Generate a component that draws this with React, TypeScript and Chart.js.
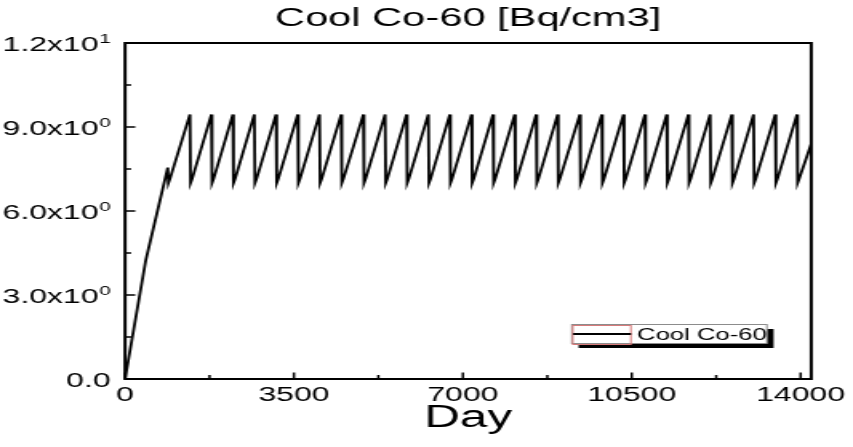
import React, { useEffect, useRef } from "react";
import { Chart, registerables } from "chart.js";

Chart.register(...registerables);

// ---------- data ----------
const chartTitle = "Cool Co-60 [Bq/cm3]";
const seriesName = "Cool Co-60";
const xAxisTitle = "Day";

const dayValues = [
  0, 430, 885, 898, 930,
  1345, 1357, 1390,
  1790, 1802, 1835,
  2235, 2247, 2280,
  2680, 2692, 2725,
  3130, 3142, 3175,
  3580, 3592, 3625,
  4030, 4042, 4075,
  4480, 4492, 4525,
  4940, 4952, 4985,
  5390, 5402, 5435,
  5835, 5847, 5880,
  6285, 6297, 6330,
  6730, 6742, 6775,
  7180, 7192, 7225,
  7625, 7637, 7670,
  8075, 8087, 8120,
  8520, 8532, 8565,
  8965, 8977, 9010,
  9425, 9437, 9470,
  9880, 9892, 9925,
  10330, 10342, 10375,
  10775, 10787, 10820,
  11225, 11237, 11270,
  11675, 11687, 11720,
  12125, 12137, 12170,
  12575, 12587, 12620,
  13025, 13037, 13070,
  13475, 13487, 13520,
  13925, 13937, 13970,
  14220,
];

const activityValues = [
  0, 4.25, 7.55, 7.0, 7.15,
  9.45, 7.0, 7.15,
  9.45, 7.0, 7.15,
  9.45, 7.0, 7.15,
  9.45, 7.0, 7.15,
  9.45, 7.0, 7.15,
  9.45, 7.0, 7.15,
  9.45, 7.0, 7.15,
  9.45, 7.0, 7.15,
  9.45, 7.0, 7.15,
  9.45, 7.0, 7.15,
  9.45, 7.0, 7.15,
  9.45, 7.0, 7.15,
  9.45, 7.0, 7.15,
  9.45, 7.0, 7.15,
  9.45, 7.0, 7.15,
  9.45, 7.0, 7.15,
  9.45, 7.0, 7.15,
  9.45, 7.0, 7.15,
  9.45, 7.0, 7.15,
  9.45, 7.0, 7.15,
  9.45, 7.0, 7.15,
  9.45, 7.0, 7.15,
  9.45, 7.0, 7.15,
  9.45, 7.0, 7.15,
  9.45, 7.0, 7.15,
  9.45, 7.0, 7.15,
  9.45, 7.0, 7.15,
  9.45, 7.0, 7.15,
  9.45, 7.0, 7.15,
  8.4,
];

const xTickValues = [0, 3500, 7000, 10500, 14000];
const xTickLabels = ["0", "3500", "7000", "10500", "14000"];
const xMinorTicks = [1750, 5250, 8750, 12250];
const yTickValues = [0, 3, 6, 9, 12];
const yTickMantissas = ["0.0", "3.0x10", "6.0x10", "9.0x10", "1.2x10"];
const yTickExponents = ["", "0", "0", "0", "1"];
const yMinorTicks = [1.5, 4.5, 7.5, 10.5];
const xMin = 0;
const xMax = 14220;
const yMin = 0;
const yMax = 12;

// ---------- layout ----------
const CSS_W = 853;
const CSS_H = 447;
const SX = 1.6; // horizontal stretch of the picture
const W = Math.round(CSS_W / SX);
const FONT = "'Liberation Sans', Arial, Helvetica, sans-serif";

const decorPlugin = {
  id: "decor",
  afterDatasetsDraw(chart: any) {
    const { ctx, chartArea: a, scales } = chart;
    const xs = scales.x;
    const ys = scales.y;
    ctx.save();
    // tick marks (inward)
    ctx.strokeStyle = "#000";
    ctx.lineWidth = 1.5;
    ctx.beginPath();
    yTickValues.forEach((v) => {
      const py = ys.getPixelForValue(v);
      ctx.moveTo(a.left, py);
      ctx.lineTo(a.left + 6.4, py);
    });
    yMinorTicks.forEach((v) => {
      const py = ys.getPixelForValue(v);
      ctx.moveTo(a.left, py);
      ctx.lineTo(a.left + 3.8, py);
    });
    xTickValues.forEach((v) => {
      const px = xs.getPixelForValue(v);
      ctx.moveTo(px, a.bottom);
      ctx.lineTo(px, a.bottom - 6.5);
    });
    xMinorTicks.forEach((v) => {
      const px = xs.getPixelForValue(v);
      ctx.moveTo(px, a.bottom);
      ctx.lineTo(px, a.bottom - 4);
    });
    ctx.stroke();
    // frame
    ctx.lineWidth = 2;
    ctx.strokeRect(a.left, a.top, a.right - a.left, a.bottom - a.top);

    // y tick labels with superscript exponents
    ctx.fillStyle = "#000";
    ctx.textBaseline = "alphabetic";
    ctx.textAlign = "right";
    const rightEdge = a.left - 9;
    yTickValues.forEach((v, i) => {
      const py = ys.getPixelForValue(v);
      const exp = yTickExponents[i];
      ctx.font = `13px ${FONT}`;
      const ew = exp ? ctx.measureText(exp).width : 0;
      if (exp) ctx.fillText(exp, rightEdge, py - 0.5);
      ctx.font = `20px ${FONT}`;
      ctx.fillText(yTickMantissas[i], rightEdge - ew - (exp ? 0.3 : 0), py + 7.5);
    });

    // legend
    const bx = 357.3;
    const by = 324;
    const bw = 121.9;
    const bh = 19;
    ctx.fillStyle = "#000";
    ctx.fillRect(bx + 4.2, by + 5, bw, bh);
    ctx.fillStyle = "#fff";
    ctx.fillRect(bx, by, bw, bh);
    ctx.lineWidth = 1;
    ctx.strokeStyle = "#8c8c8c";
    ctx.strokeRect(bx, by + 0.5, bw, bh);
    ctx.strokeStyle = "#d77a7a";
    ctx.strokeRect(bx + 0.6, by + 1.5, 36.3, bh);
    ctx.strokeStyle = "#000";
    ctx.lineWidth = 2;
    ctx.beginPath();
    ctx.moveTo(bx + 0.8, by + 10);
    ctx.lineTo(bx + 37, by + 10);
    ctx.stroke();
    ctx.fillStyle = "#000";
    ctx.textAlign = "left";
    ctx.font = `16px ${FONT}`;
    ctx.fillText(seriesName, bx + 40.8, by + 16);
    ctx.restore();
  },
};

export default function App() {
  const ref = useRef<HTMLCanvasElement | null>(null);

  useEffect(() => {
    document.body.style.margin = "0";
    const canvas = ref.current;
    if (!canvas) return;
    const points = dayValues.map((d, i) => ({ x: d, y: activityValues[i] }));
    const chart = new Chart(canvas, {
      type: "line",
      data: {
        datasets: [
          {
            label: seriesName,
            data: points,
            borderColor: "#000",
            backgroundColor: "#000",
            borderWidth: 1.8,
            pointRadius: 0,
            tension: 0,
            fill: false,
          },
        ],
      },
      options: {
        responsive: false,
        animation: false,
        devicePixelRatio: 1,
        layout: { padding: { left: 0, right: W - 817 / SX, top: 0, bottom: 0 } },
        plugins: {
          legend: { display: false },
          tooltip: { enabled: false },
          title: {
            display: true,
            text: chartTitle,
            fullSize: false,
            color: "#000",
            font: { family: FONT, size: 26, weight: "normal", lineHeight: 1.2 },
            padding: { top: 3, bottom: 8.8 },
          },
        },
        scales: {
          x: {
            type: "linear",
            min: xMin,
            max: xMax,
            grid: { display: false, drawTicks: false },
            border: { display: false },
            afterBuildTicks: (s: any) => {
              s.ticks = xTickValues.map((v) => ({ value: v }));
            },
            afterFit: (s: any) => {
              s.height = CSS_H - 379;
            },
            ticks: {
              autoSkip: false,
              maxRotation: 0,
              padding: 4.5,
              color: "#000",
              font: { family: FONT, size: 20 },
              callback: (_v: any, i: number) => xTickLabels[i],
            },
            title: {
              display: true,
              text: xAxisTitle,
              color: "#000",
              font: { family: FONT, size: 31 },
              padding: { top: 0, bottom: 10 },
            },
          },
          y: {
            type: "linear",
            min: yMin,
            max: yMax,
            grid: { display: false, drawTicks: false },
            border: { display: false },
            ticks: { display: false },
            afterFit: (s: any) => {
              s.width = 125 / SX;
            },
          },
        },
      },
      plugins: [decorPlugin],
    });
    return () => chart.destroy();
  }, []);

  return (
    <div style={{ width: CSS_W, height: CSS_H, background: "#fff" }}>
      <canvas
        ref={ref}
        width={W}
        height={CSS_H}
        style={{ width: `${CSS_W}px`, height: `${CSS_H}px`, display: "block" }}
      />
    </div>
  );
}
